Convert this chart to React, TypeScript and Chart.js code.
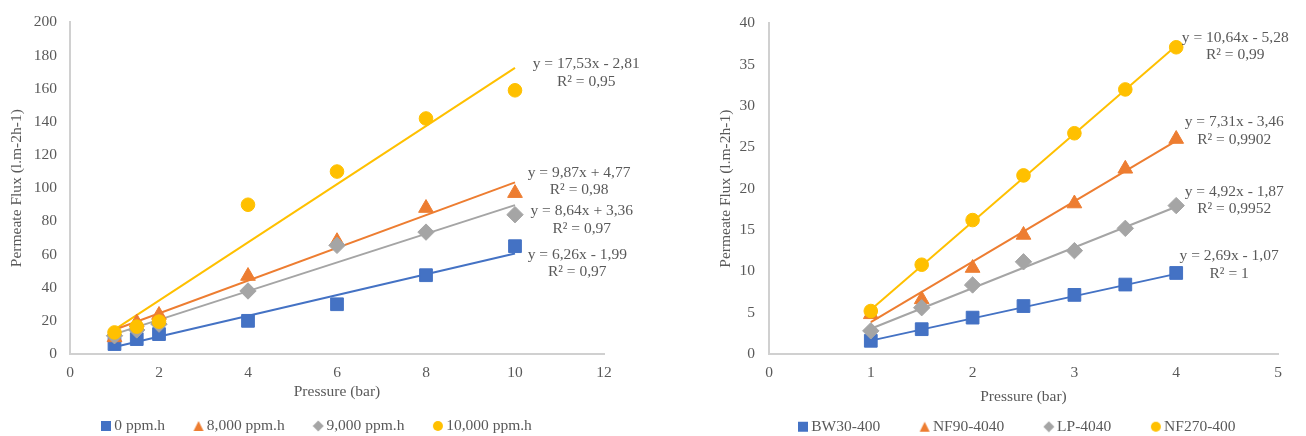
import React, { useEffect, useRef } from "react";
import { Chart, registerables } from "chart.js";

Chart.register(...registerables);

const FONT = "'Liberation Serif', 'Times New Roman', serif";
const TEXT = "#595959";
const AXIS = "#D0D0D0";
const COLORS = ["#4472C4", "#ED7D31", "#A5A5A5", "#FFC000"];
const STYLES = ["rect", "triangle", "rectRot", "circle"];
const RADII = [9, 8.5, 8.2, 6.8];
const FS = 15.5;

// ---------- Left chart data ----------
const leftX = [1, 1.5, 2, 4, 6, 8, 10];
const leftNames = ["0 ppm.h", "8,000 ppm.h", "9,000 ppm.h", "10,000 ppm.h"];
const left0 = [6, 9, 12, 20, 30, 47.5, 65];
const left8000 = [10, 19, 23.5, 47, 68, 88, 97];
const left9000 = [11, 14.5, 18, 38, 65.5, 73.5, 84];
const left10000 = [13, 16.5, 19.5, 90, 110, 142, 159];
const leftTrendX = [1, 10];
const leftTrend0 = [4.27, 60.61];
const leftTrend8000 = [14.64, 103.47];
const leftTrend9000 = [12.0, 89.76];
const leftTrend10000 = [14.72, 172.49];
const leftEquations = [
  ["y = 6,26x - 1,99", "R² = 0,97"],
  ["y = 9,87x + 4,77", "R² = 0,98"],
  ["y = 8,64x + 3,36", "R² = 0,97"],
  ["y = 17,53x - 2,81", "R² = 0,95"],
];
const leftEqX = [11.4, 11.44, 11.5, 11.6];
const leftEqY = [59.9, 109.2, 86.0, 174.7];
const leftXRange = [0, 12, 2];
const leftYRange = [0, 200, 20];

// ---------- Right chart data ----------
const rightX = [1, 1.5, 2, 2.5, 3, 3.5, 4];
const rightNames = ["BW30-400", "NF90-4040", "LP-4040", "NF270-400"];
const rightBW30 = [1.6, 3.0, 4.4, 5.8, 7.15, 8.4, 9.8];
const rightNF90 = [4.8, 6.6, 10.4, 14.4, 18.2, 22.4, 26.0];
const rightLP = [2.8, 5.6, 8.35, 11.15, 12.5, 15.2, 17.95];
const rightNF270 = [5.2, 10.8, 16.2, 21.6, 26.7, 32.0, 37.1];
const rightTrendX = [1, 4];
const rightTrendBW30 = [1.62, 9.69];
const rightTrendNF90 = [3.85, 25.78];
const rightTrendLP = [3.05, 17.81];
const rightTrendNF270 = [5.36, 37.28];
const rightEquations = [
  ["y = 2,69x - 1,07", "R² = 1"],
  ["y = 7,31x - 3,46", "R² = 0,9902"],
  ["y = 4,92x - 1,87", "R² = 0,9952"],
  ["y = 10,64x - 5,28", "R² = 0,99"],
];
const rightEqX = [4.52, 4.57, 4.57, 4.58];
const rightEqY = [11.83, 28.05, 19.64, 38.26];
const rightXRange = [0, 5, 1];
const rightYRange = [0, 40, 5];

const X_TITLE = "Pressure (bar)";
const Y_TITLE = "Permeate Flux (l.m-2h-1)";

function makeIcon(shape: string, color: string) {
  const c = document.createElement("canvas");
  c.width = 12;
  c.height = 12;
  const g = c.getContext("2d") as CanvasRenderingContext2D;
  g.fillStyle = color;
  g.beginPath();
  if (shape === "rect") {
    g.rect(1, 1, 10, 10);
  } else if (shape === "triangle") {
    g.moveTo(6, 1);
    g.lineTo(11, 11);
    g.lineTo(1, 11);
    g.closePath();
  } else if (shape === "rectRot") {
    g.moveTo(6, 0.5);
    g.lineTo(11.5, 6);
    g.lineTo(6, 11.5);
    g.lineTo(0.5, 6);
    g.closePath();
  } else {
    g.arc(6, 6, 5, 0, Math.PI * 2);
  }
  g.fill();
  return c;
}

function equationPlugin(lines: string[][], xs: number[], ys: number[]) {
  return {
    id: "equations",
    afterDatasetsDraw(chart: any) {
      const { ctx } = chart;
      const xs_ = chart.scales.x;
      const ys_ = chart.scales.y;
      ctx.save();
      ctx.font = `${FS}px ${FONT}`;
      ctx.fillStyle = TEXT;
      ctx.textAlign = "center";
      ctx.textBaseline = "middle";
      lines.forEach((pair, i) => {
        const px = xs_.getPixelForValue(xs[i]);
        const py = ys_.getPixelForValue(ys[i]);
        pair.forEach((t, j) => ctx.fillText(t, px, py + j * 17.5));
      });
      ctx.restore();
    },
  };
}

function legendShiftPlugin(markerX: number, centerY: number) {
  return {
    id: "legendShift",
    afterLayout(chart: any) {
      const lg = chart.legend;
      if (!lg || !lg.lineWidths) return;
      const lab = lg.options.labels;
      const p = lab.padding;
      const bw = lab.boxWidth;
      const startX = (lg.left + p + lg.right - lg.lineWidths[0]) / 2;
      const dx = markerX - (startX + bw / 2);
      const newTop = centerY - p - FS / 2;
      lg.left += dx;
      lg.right += dx;
      lg.top = newTop;
      lg.bottom = chart.height + 40;
      lg.height = lg.bottom - lg.top;
    },
  };
}

type Spec = {
  x: number[];
  names: string[];
  series: number[][];
  trendX: number[];
  trends: number[][];
  eqLines: string[][];
  eqX: number[];
  eqY: number[];
  xRange: number[];
  yRange: number[];
  padRight: number;
  yWidth: number;
  yTitlePad: number;
  yTickPad: number;
  xHeight: number;
  legendPad: number;
  legendMarkerX: number;
  legendCenterY: number;
};

function buildConfig(spec: Spec, icons: HTMLCanvasElement[]): any {
  const datasets: any[] = [];
  spec.series.forEach((vals, i) => {
    datasets.push({
      label: spec.names[i],
      data: spec.x.map((xv, k) => ({ x: xv, y: vals[k] })),
      showLine: false,
      pointStyle: STYLES[i],
      pointRadius: RADII[i],
      pointHoverRadius: RADII[i],
      backgroundColor: COLORS[i],
      borderColor: COLORS[i],
      pointBorderWidth: 1,
      order: 4 - i,
    });
  });
  spec.trends.forEach((vals, i) => {
    datasets.push({
      label: "trend-" + i,
      data: spec.trendX.map((xv, k) => ({ x: xv, y: vals[k] })),
      showLine: true,
      pointRadius: 0,
      pointHoverRadius: 0,
      borderColor: COLORS[i],
      backgroundColor: COLORS[i],
      borderWidth: 2,
      fill: false,
      order: 10 + i,
    });
  });

  const tickFont = { family: FONT, size: FS };
  const legendH = 436 - 354 - spec.xHeight;

  return {
    type: "scatter",
    data: { datasets },
    options: {
      responsive: false,
      animation: false,
      devicePixelRatio: 1,
      events: [],
      layout: { padding: { left: 0, right: spec.padRight, top: 20, bottom: 0 } },
      scales: {
        x: {
          type: "linear",
          min: spec.xRange[0],
          max: spec.xRange[1],
          afterFit: (s: any) => {
            s.height = spec.xHeight;
          },
          ticks: { stepSize: spec.xRange[2], color: TEXT, font: tickFont, padding: 10 },
          grid: { display: false, drawTicks: false },
          border: { display: true, color: AXIS, width: 2 },
          title: {
            display: true,
            text: X_TITLE,
            color: TEXT,
            font: tickFont,
            padding: { top: 0, bottom: 0 },
          },
        },
        y: {
          type: "linear",
          min: spec.yRange[0],
          max: spec.yRange[1],
          afterFit: (s: any) => {
            s.width = spec.yWidth;
          },
          ticks: { stepSize: spec.yRange[2], color: TEXT, font: tickFont, padding: spec.yTickPad },
          grid: { display: false, drawTicks: false },
          border: { display: true, color: AXIS, width: 2 },
          title: {
            display: true,
            text: Y_TITLE,
            color: TEXT,
            font: tickFont,
            padding: { top: spec.yTitlePad, bottom: 0 },
          },
        },
      },
      plugins: {
        tooltip: { enabled: false },
        legend: {
          position: "bottom",
          maxHeight: legendH,
          labels: {
            usePointStyle: true,
            boxWidth: 1,
            boxHeight: 10,
            padding: spec.legendPad,
            color: TEXT,
            font: tickFont,
            generateLabels: (chart: any) => {
              const base = (Chart.defaults.plugins.legend.labels as any).generateLabels(chart);
              return base
                .filter((it: any) => it.datasetIndex < 4)
                .sort((a: any, b: any) => a.datasetIndex - b.datasetIndex)
                .map((it: any) => ({ ...it, pointStyle: icons[it.datasetIndex] }));
            },
          },
        },
      },
    },
    plugins: [
      equationPlugin(spec.eqLines, spec.eqX, spec.eqY),
      legendShiftPlugin(spec.legendMarkerX, spec.legendCenterY),
    ],
  };
}

const leftSpec: Spec = {
  x: leftX,
  names: leftNames,
  series: [left0, left8000, left9000, left10000],
  trendX: leftTrendX,
  trends: [leftTrend0, leftTrend8000, leftTrend9000, leftTrend10000],
  eqLines: leftEquations,
  eqX: leftEqX,
  eqY: leftEqY,
  xRange: leftXRange,
  yRange: leftYRange,
  padRight: 49,
  yWidth: 70,
  yTitlePad: 7.7,
  yTickPad: 13,
  xHeight: 47,
  legendPad: 33,
  legendMarkerX: 106,
  legendCenterY: 426,
};

const rightSpec: Spec = {
  x: rightX,
  names: rightNames,
  series: [rightBW30, rightNF90, rightLP, rightNF270],
  trendX: rightTrendX,
  trends: [rightTrendBW30, rightTrendNF90, rightTrendLP, rightTrendNF270],
  eqLines: rightEquations,
  eqX: rightEqX,
  eqY: rightEqY,
  xRange: rightXRange,
  yRange: rightYRange,
  padRight: 28,
  yWidth: 116,
  yTitlePad: 63.3,
  yTickPad: 14,
  xHeight: 52,
  legendPad: 44,
  legendMarkerX: 150,
  legendCenterY: 426.7,
};

function Panel({ spec }: { spec: Spec }) {
  const ref = useRef<HTMLCanvasElement | null>(null);
  useEffect(() => {
    if (!ref.current) return;
    const icons = STYLES.map((s, i) => makeIcon(s, COLORS[i]));
    const chart = new Chart(ref.current, buildConfig(spec, icons));
    return () => chart.destroy();
  }, [spec]);
  return (
    <canvas
      ref={ref}
      width={653}
      height={436}
      style={{ display: "block", width: 653, height: 436 }}
    />
  );
}

export default function App() {
  return (
    <div
      style={{
        position: "fixed",
        left: 0,
        top: 0,
        width: 1306,
        height: 436,
        display: "flex",
        background: "#ffffff",
      }}
    >
      <Panel spec={leftSpec} />
      <Panel spec={rightSpec} />
    </div>
  );
}
